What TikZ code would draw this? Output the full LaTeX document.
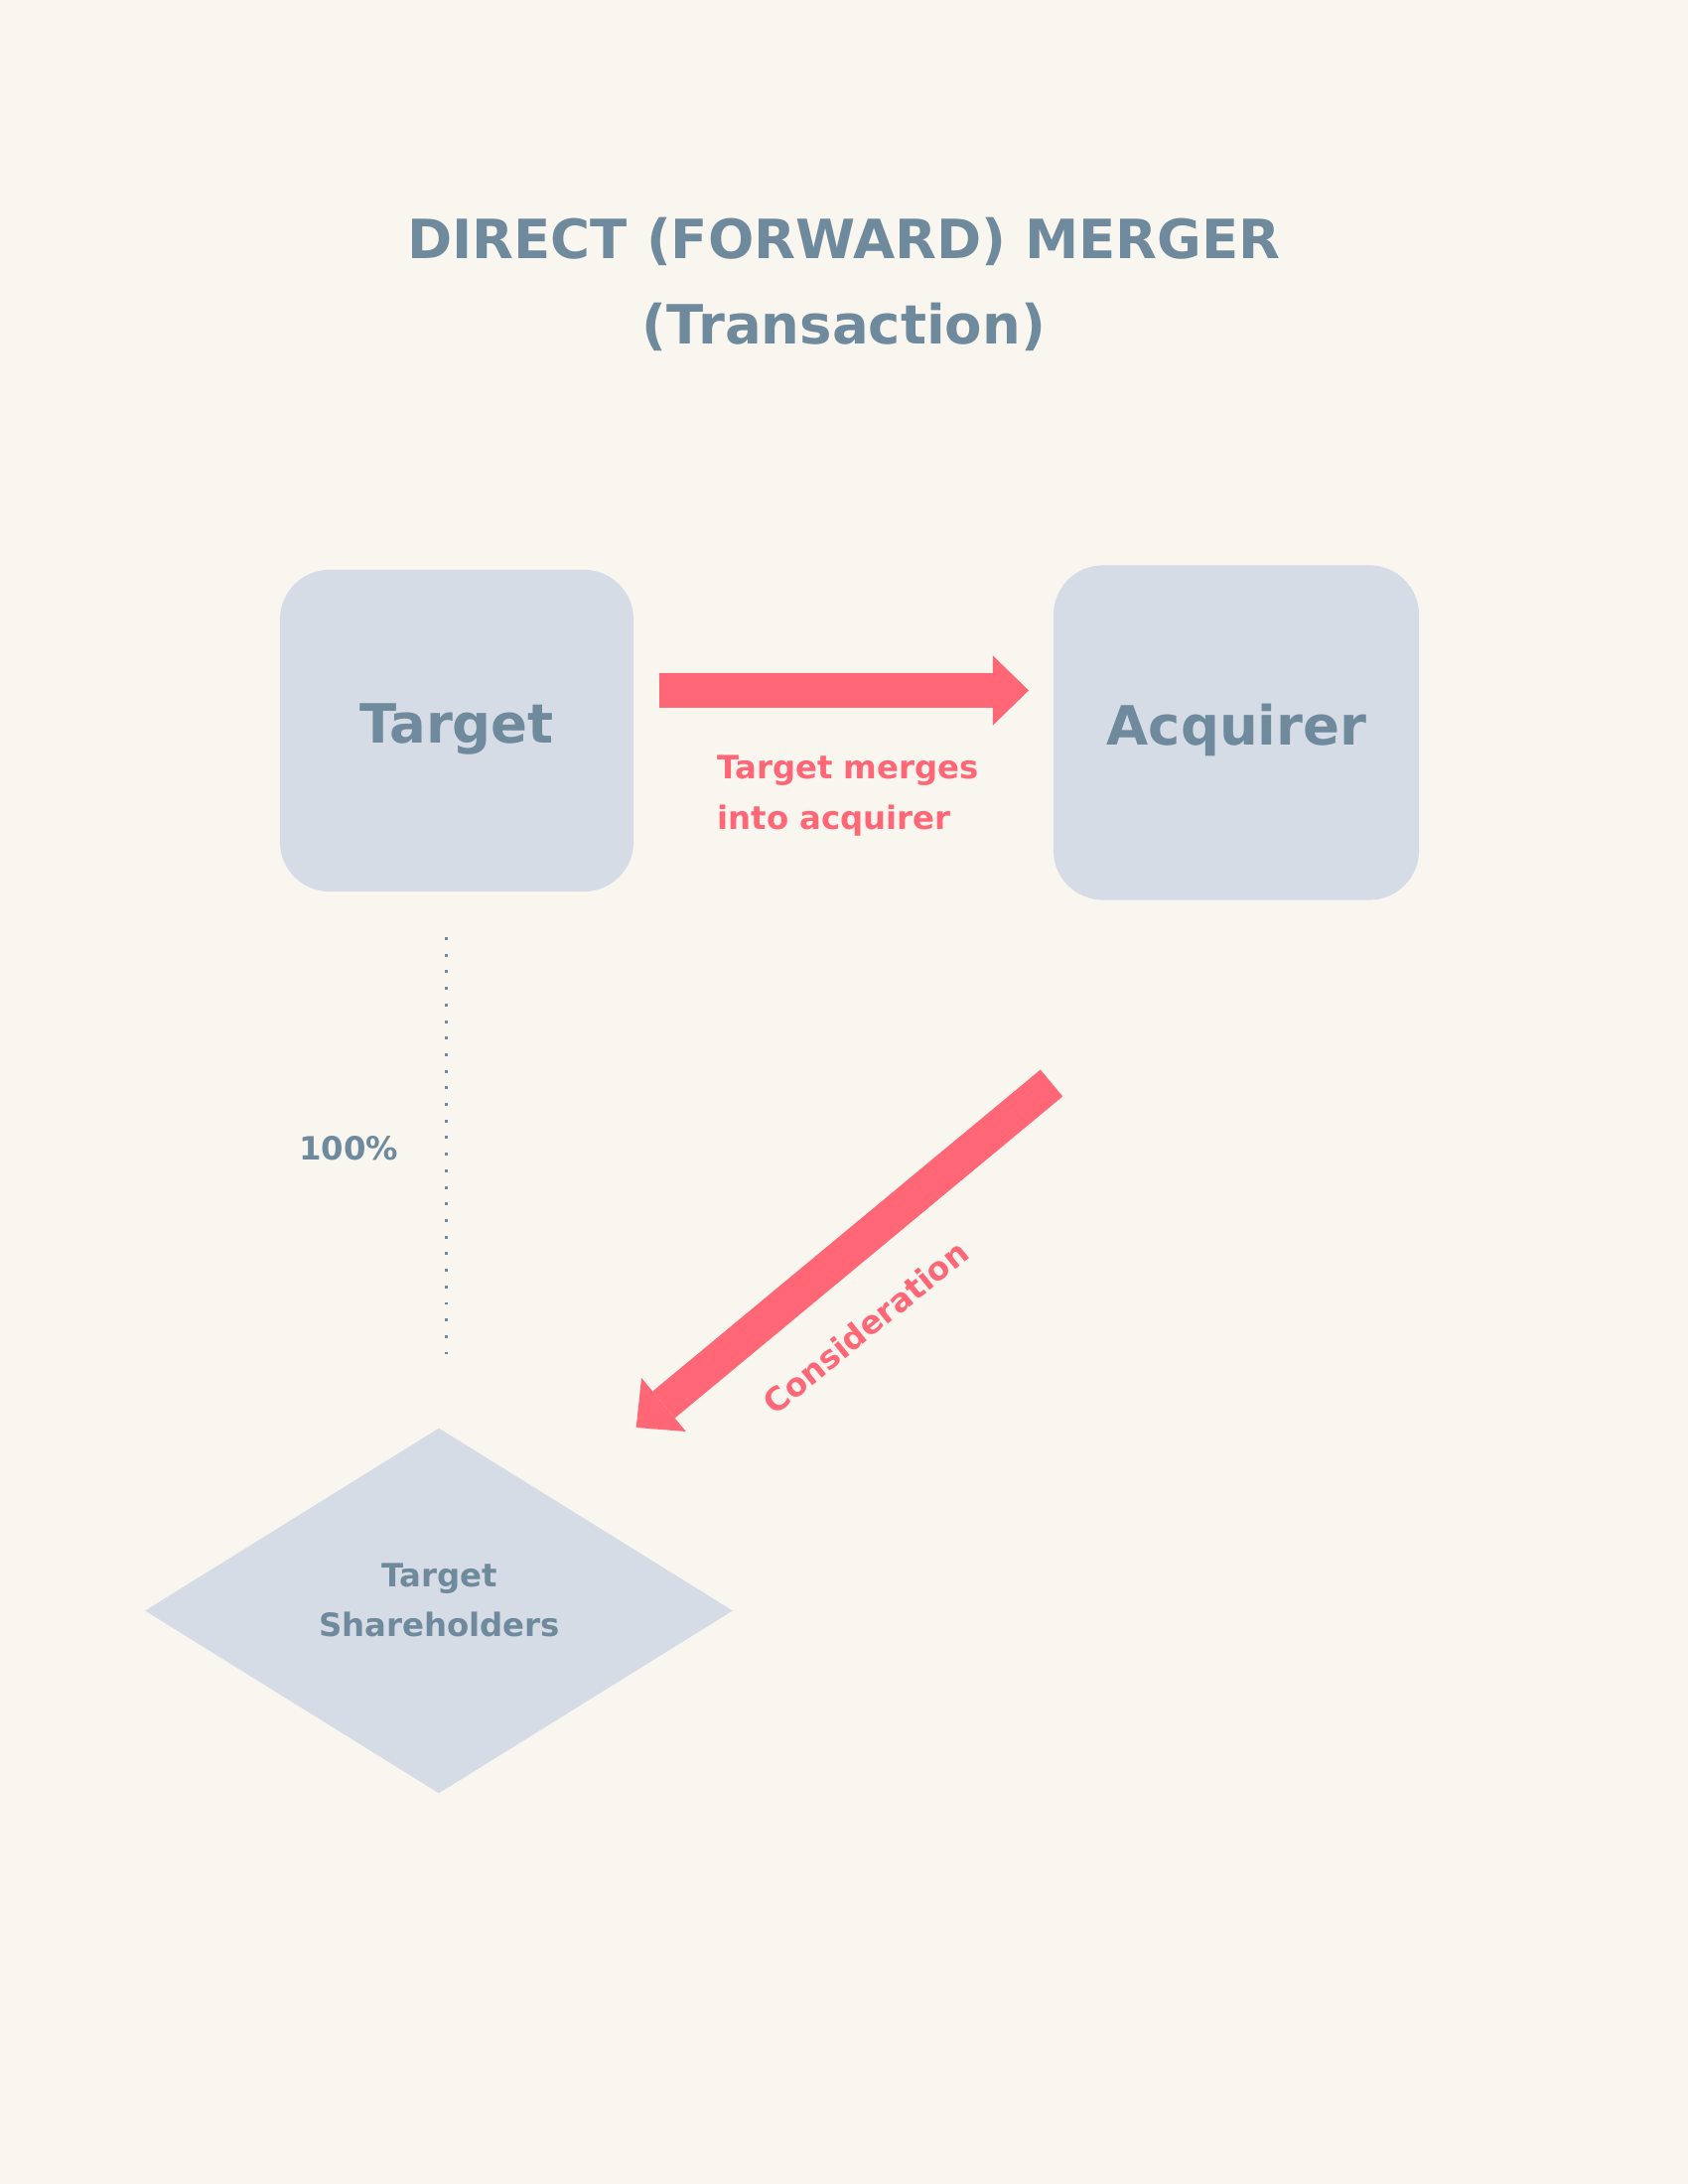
\documentclass[tikz,border=0pt]{standalone}
\usepackage{fontspec}
\setmainfont{DejaVu Sans}
\usetikzlibrary{shapes.geometric,arrows.meta}
\definecolor{bg}{HTML}{F9F6F0}
\definecolor{boxfill}{HTML}{D5DCE6}
\definecolor{slate}{HTML}{6E8A9C}
\definecolor{coral}{HTML}{FF6676}
\begin{document}
\begin{tikzpicture}[x=0.01cm,y=-0.01cm,
  entity/.style={fill=boxfill, rounded corners=5mm, inner sep=0pt},
  holder/.style={diamond, fill=boxfill, inner sep=0pt, minimum width=5.92cm, minimum height=3.68cm},
  bigarrow/.style={draw=coral, line width=3.5mm, -{Triangle[length=3.6mm,width=7mm,line width=0pt,fill=coral]}},
  dotline/.style={draw=slate, line width=0.85pt, dash pattern=on 0.85pt off 3.9pt},
  titletext/.style={text=slate, font=\bfseries\fontsize{15.5pt}{24.3pt}\selectfont, align=center, inner sep=0pt},
  entitytext/.style={text=slate, font=\bfseries\fontsize{15.5pt}{18pt}\selectfont, inner sep=0pt},
  smalltext/.style={text=slate, font=\bfseries\fontsize{9.2pt}{14.3pt}\selectfont, inner sep=0pt},
  redtext/.style={text=coral, font=\bfseries\fontsize{9.2pt}{14.5pt}\selectfont, inner sep=0pt}]
\fill[bg] (0,0) rectangle (1700,2200);
\useasboundingbox (0,0) rectangle (1700,2200);

\node[titletext, anchor=base] (title) at (850,346) {DIRECT (FORWARD) MERGER\\(Transaction)};

\node[entity, minimum width=3.56cm, minimum height=3.24cm] (target) at (460,736) {};
\node[entitytext, anchor=base] (targettext) at (460,748) {Target};
\node[entity, minimum width=3.68cm, minimum height=3.37cm] (acquirer) at (1245,738) {};
\node[entitytext, anchor=base] (acquirertext) at (1245.5,750) {Acquirer};

\node[holder] (holders) at (442,1622.5) {};
\node[smalltext, anchor=base, align=center] (holderstext) at (442.5,1648.3) {Target\\Shareholders};

\coordinate (m1) at (664,695.5);
\coordinate (m2) at (1036,695.5);
\draw[bigarrow] (m1) -- (m2);
\node[redtext, anchor=base west, align=left] (mergelabel) at (721.7,835.3) {Target merges\\into acquirer};

\coordinate (c1) at (1059,1091);
\coordinate (c2) at (640.7,1438);
\draw[bigarrow] (c1) -- (c2);
\node[redtext, rotate=39] (conslabel) at (871.7,1336.7) {Consideration};

\coordinate (d1) at (449.3,944);
\coordinate (d2) at (449.3,1364);
\draw[dotline] (d1) -- (d2);
\node[smalltext, anchor=base] (pct) at (351.3,1168.3) {100\%};
\end{tikzpicture}
\end{document}
